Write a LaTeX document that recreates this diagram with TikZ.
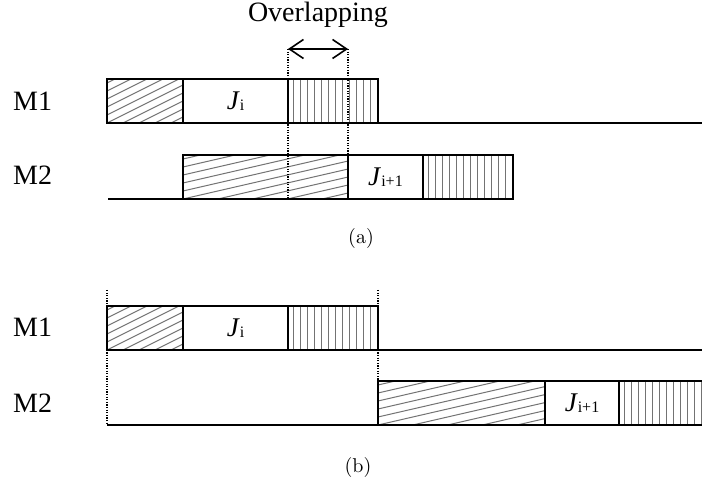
\documentclass[tikz,border=0pt]{standalone}
\usepackage{fontspec}
\newfontfamily\tnr{Liberation Serif}
\newfontfamily\lmten[Extension=.otf]{lmroman10-regular}
\usetikzlibrary{arrows.meta}
\newcommand\Jsub[1]{{\tnr\fontsize{27}{30}\selectfont\textit{J}\raisebox{-1.5pt}{\fontsize{16}{18}\selectfont #1}}}
\tikzset{
 hatchline/.style={draw=black!55, line width=1pt},
 box/.style={draw=black, line width=2.3pt, inner sep=0pt, outer sep=0pt, minimum height=44pt, anchor=south west, fill=white},
 diag/.style={path picture={\foreach \k in {-30,...,8}{\draw[hatchline] ([yshift=\k*8pt]path picture bounding box.south west) -- ++(260pt,260pt*#1);}}},
 vert/.style={path picture={\foreach \k in {0,...,14}{\draw[hatchline] ([xshift=5pt+\k*7pt]path picture bounding box.south west) -- ++(0,50pt);}}},
 baseln/.style={draw=black, line width=2.3pt},
 dotline/.style={draw=black, line width=2pt, dash pattern=on 1.3pt off 1.3pt},
 dblarrow/.style={draw=black, line width=1.6pt, {Straight Barb[length=14pt,width=19pt]}-{Straight Barb[length=14pt,width=19pt]}},
 txt/.style={font=\tnr\fontsize{28}{32}\selectfont, inner sep=0pt},
 captxt/.style={font=\lmten\fontsize{20}{23}\selectfont, inner sep=0pt},
}
\begin{document}
\begin{tikzpicture}[x=1pt,y=1pt]
\useasboundingbox (0,0) rectangle (702,479);
\clip (0,0) rectangle (702,479);
% ---------- (a) ----------
\node[txt, anchor=base west] (lm1a) at (13,368) {M1};
\node[txt, anchor=base west] (lm2a) at (13,294) {M2};
\node[box, diag=0.5, minimum width=76pt] (a11) at (107,356) {};
\node[box, minimum width=105pt] (a12) at (183,356) {\Jsub{i}};
\node[box, vert, minimum width=90pt] (a13) at (288,356) {};
\coordinate (a1end) at (702,356);
\draw[baseln] (a13.south east) -- (a1end);
\coordinate (a2start) at (108,280);
\node[box, diag=0.23, minimum width=165pt] (a21) at (183,280) {};
\node[box, minimum width=75pt] (a22) at (348,280) {\Jsub{i+1}};
\node[box, vert, minimum width=90pt] (a23) at (423,280) {};
\draw[baseln] (a2start) -- (a21.south west);
\coordinate (ovl) at (288,430);
\coordinate (ovr) at (348,430);
\draw[dotline] (ovl) -- (ovl |- a21.south);
\draw[dotline] (ovr) -- (ovr |- a22.south);
\draw[dblarrow] (ovl) -- (ovr);
\node[txt, anchor=base] (ovtext) at (318,457) {Overlapping};
\node[captxt, anchor=base] (capa) at (361,235) {(a)};
% ---------- (b) ----------
\node[txt, anchor=base west] (lm1b) at (13,142) {M1};
\node[txt, anchor=base west] (lm2b) at (13,66) {M2};
\node[box, diag=0.5, minimum width=76pt] (b11) at (107,129) {};
\node[box, minimum width=105pt] (b12) at (183,129) {\Jsub{i}};
\node[box, vert, minimum width=90pt] (b13) at (288,129) {};
\coordinate (b1end) at (702,129);
\draw[baseln] (b13.south east) -- (b1end);
\node[box, diag=0.23, minimum width=167pt] (b21) at (378,54) {};
\node[box, minimum width=74pt] (b22) at (545,54) {\Jsub{i+1}};
\node[box, vert, minimum width=87pt] (b23) at (619,54) {};
\coordinate (b2start) at (107,54);
\draw[baseln] (b2start) -- (b21.south west);
\coordinate (bl) at (107,189);
\coordinate (br) at (378,189);
\draw[dotline] (bl) -- (b2start);
\draw[dotline] (br) -- (b21.north west);
\node[captxt, anchor=base] (capb) at (358,6) {(b)};
\end{tikzpicture}
\end{document}
